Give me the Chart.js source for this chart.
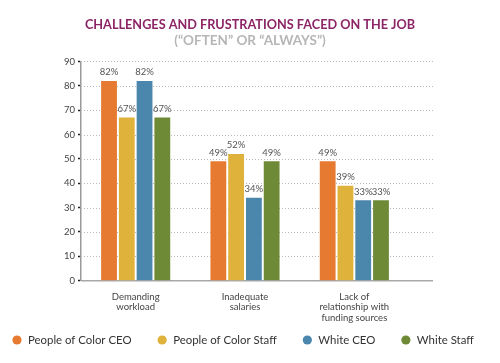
<!DOCTYPE html>
<html>
<head>
<meta charset="utf-8">
<script src="https://cdn.jsdelivr.net/npm/chart.js@4"></script>
<style>
  html, body { margin: 0; padding: 0; background: #fff; }
  #wrap { width: 500px; height: 363px; }
</style>
</head>
<body>
<div id="wrap"><canvas id="barChart" width="500" height="363"></canvas></div>
<script>
// data
var categories = [['Demanding', 'workload'], ['Inadequate', 'salaries'], ['Lack of', 'relationship with', 'funding sources']];
var seriesNames = ['People of Color CEO', 'People of Color Staff', 'White CEO', 'White Staff'];
var pocCeo = [82, 49, 49];
var pocStaff = [67, 52, 39];
var whiteCeo = [82, 34, 33];
var whiteStaff = [67, 49, 33];
var yTicks = [0, 10, 20, 30, 40, 50, 60, 70, 80, 90];
var colors = ['#e77a31', '#dfb23b', '#4b86ad', '#6e8a37'];

var FONT = 'Lato, "Open Sans", sans-serif';

// dotted grid lines + baseline, running a bit past the last group like the original
var gridPlugin = {
    id: 'extGrid',
    beforeDatasetsDraw: function (chart) {
        var ctx = chart.ctx, area = chart.chartArea, y = chart.scales.y;
        var right = area.right + 24;
        ctx.save();
        ctx.strokeStyle = '#b8b8b8';
        ctx.lineWidth = 1;
        ctx.setLineDash([1, 2]);
        yTicks.forEach(function (t) {
            if (t === 0) return;
            var py = Math.round(y.getPixelForValue(t)) + 0.5;
            ctx.beginPath();
            ctx.moveTo(area.left, py);
            ctx.lineTo(right, py);
            ctx.stroke();
        });
        ctx.setLineDash([]);
        ctx.strokeStyle = '#a8a8a8';
        ctx.lineWidth = 1.5;
        var by = y.getPixelForValue(0);
        ctx.beginPath();
        ctx.moveTo(area.left, by);
        ctx.lineTo(right, by);
        ctx.stroke();
        ctx.restore();
    }
};

// percent labels on top of the bars
var valueLabels = {
    id: 'valueLabels',
    afterDatasetsDraw: function (chart) {
        var ctx = chart.ctx;
        ctx.save();
        ctx.font = '9.5px ' + FONT;
        ctx.fillStyle = '#555';
        ctx.textAlign = 'center';
        ctx.textBaseline = 'bottom';
        chart.data.datasets.forEach(function (ds, i) {
            chart.getDatasetMeta(i).data.forEach(function (bar, j) {
                ctx.fillText(ds.data[j] + '%', bar.x, bar.y - 4);
            });
        });
        ctx.restore();
    }
};

// one-row legend along the bottom (the built-in one wraps at these gaps)
var rowLegend = {
    id: 'rowLegend',
    afterDraw: function (chart) {
        var ctx = chart.ctx;
        var x = 17, y = 340, r = 4.6;
        ctx.save();
        ctx.font = '11.4px ' + FONT;
        ctx.textBaseline = 'middle';
        chart.data.datasets.forEach(function (ds) {
            ctx.fillStyle = ds.backgroundColor;
            ctx.beginPath();
            ctx.arc(x, y, r, 0, Math.PI * 2);
            ctx.fill();
            ctx.fillStyle = '#333';
            ctx.fillText(ds.label, x + 11, y + 0.5);
            x += 11 + ctx.measureText(ds.label).width + 26 + r;
        });
        ctx.restore();
    }
};

var allSeries = [pocCeo, pocStaff, whiteCeo, whiteStaff];
var datasets = allSeries.map(function (d, i) {
    return {
        label: seriesNames[i],
        data: d,
        backgroundColor: colors[i],
        borderWidth: 0,
        barPercentage: 0.89,
        categoryPercentage: 0.65
    };
});

var ctx = document.getElementById('barChart').getContext('2d');
var barChart = new Chart(ctx, {
    type: 'bar',
    data: { labels: categories, datasets: datasets },
    plugins: [gridPlugin, valueLabels, rowLegend],
    options: {
        responsive: false,
        animation: false,
        layout: { padding: { left: 0, right: 0, top: 0, bottom: 37 } },
        plugins: {
            title: {
                display: true,
                text: 'CHALLENGES AND FRUSTRATIONS FACED ON THE JOB',
                color: '#8c2566',
                font: { family: FONT, size: 12.7, weight: 'bold', lineHeight: 1.2 },
                padding: { top: 17, bottom: 0 }
            },
            subtitle: {
                display: true,
                text: '(\u201cOFTEN\u201d OR \u201cALWAYS\u201d)',
                color: '#b6b6b6',
                font: { family: FONT, size: 13.5, weight: 'bold', lineHeight: 1.2 },
                padding: { top: 0, bottom: 13 }
            },
            legend: { display: false },
            tooltip: { enabled: false }
        },
        scales: {
            x: {
                grid: { display: false },
                border: { display: false },
                ticks: {
                    color: '#444',
                    padding: 3,
                    font: { family: FONT, size: 9.5, lineHeight: 1.1 }
                }
            },
            y: {
                min: 0,
                max: 90,
                afterBuildTicks: function (scale) {
                    scale.ticks = yTicks.map(function (v) { return { value: v }; });
                },
                afterFit: function (scale) { scale.width = 81; },
                grid: { display: true, drawOnChartArea: false, tickLength: 3, tickColor: '#222', tickWidth: 1.5 },
                border: { display: true, color: '#999', width: 1.5 },
                ticks: {
                    color: '#444',
                    padding: 3,
                    font: { family: FONT, size: 9.5 }
                }
            },
            yRight: {
                position: 'right',
                display: true,
                grid: { display: false },
                border: { display: false },
                ticks: { display: false },
                afterFit: function (scale) { scale.width = 91; }
            }
        }
    }
});
</script>
</body>
</html>
